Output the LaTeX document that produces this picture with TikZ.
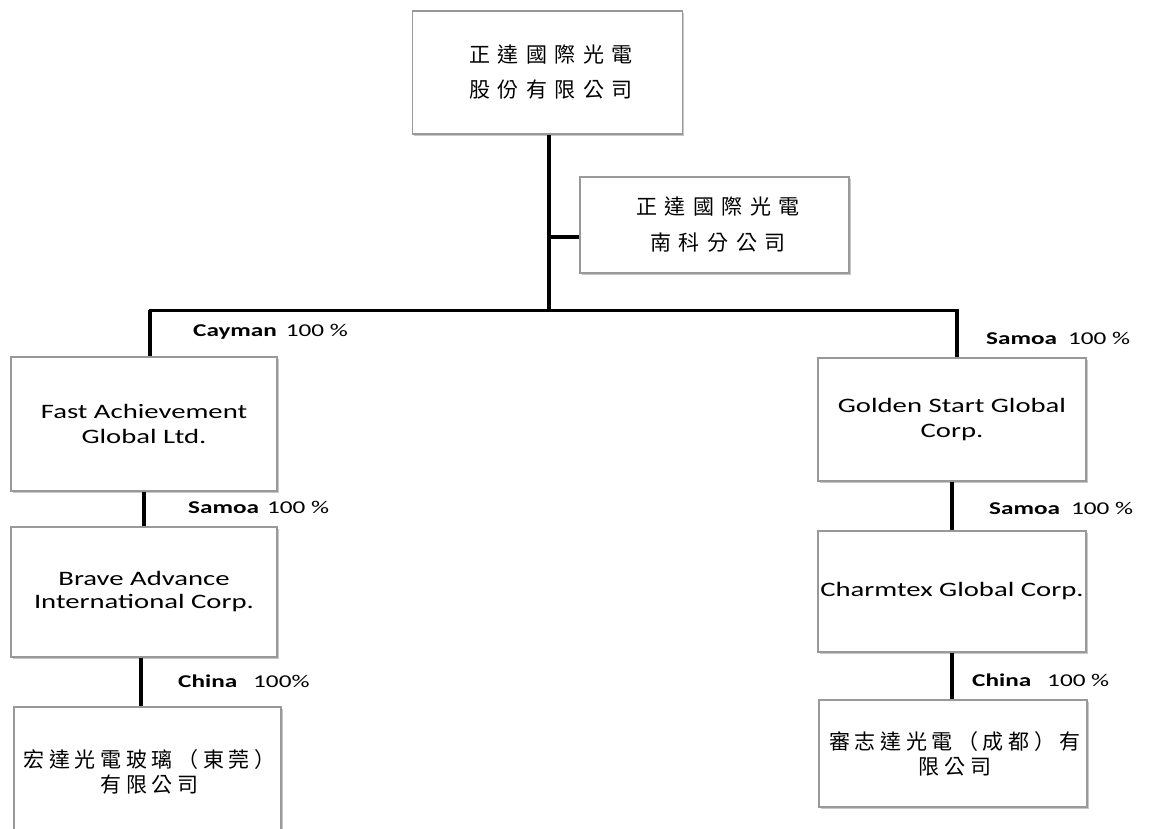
\documentclass[tikz,border=0pt]{standalone}
\usepackage{fontspec}
\setmainfont{Carlito}
\newfontfamily\calw[FakeStretch=1.4]{Carlito}
\newfontfamily\cjkA[LetterSpace=36]{Noto Sans CJK TC}
\newfontfamily\cjkB[LetterSpace=22]{Noto Sans CJK TC}
\usetikzlibrary{shadows}
\begin{document}
\begin{tikzpicture}[x=1pt,y=-1pt,
  box/.style={draw=black!40, line width=1.3pt, fill=white, inner sep=0pt, align=center,
    general shadow={fill=black!22, shadow xshift=1.6pt, shadow yshift=-1.6pt}},
  link/.style={line width=4pt, black},
  hlink/.style={line width=3pt, black},
  lbl/.style={anchor=west, inner sep=0pt, font=\calw\fontsize{18}{20}\selectfont}
]
\useasboundingbox (0,0) rectangle (1151,829);
\fill[white] (0,0) rectangle (1151,829);

% boxes
\node[box, minimum width=270pt, minimum height=123pt,
  font=\cjkA\fontsize{21}{35}\selectfont] (top) at (547.5,72.5) {\hspace{7pt}正達國際光電\\\hspace{7pt}股份有限公司};
\node[box, minimum width=269pt, minimum height=96pt,
  font=\cjkA\fontsize{21}{36}\selectfont] (branch) at (714.5,225) {\hspace{7pt}正達國際光電\\\hspace{7pt}南科分公司};
\node[box, minimum width=266pt, minimum height=134pt,
  font=\calw\fontsize{20.5}{25}\selectfont] (fa) at (144,424) {Fast Achievement\\Global Ltd.};
\node[box, minimum width=266pt, minimum height=130pt,
  font=\calw\fontsize{20.5}{23}\selectfont] (brave) at (144,592) {Brave Advance\\International Corp.};
\node[box, minimum width=267pt, minimum height=130pt,
  font=\cjkB\fontsize{21}{25}\selectfont] (hong) at (147.5,772) {\hspace{4pt}宏達光電玻璃（東莞）\\\hspace{4pt}有限公司};
\node[box, minimum width=268pt, minimum height=123pt,
  font=\calw\fontsize{20.5}{25}\selectfont] (golden) at (952,419.5) {Golden Start Global\\Corp.};
\node[box, minimum width=268pt, minimum height=121pt,
  font=\calw\fontsize{20.5}{25}\selectfont] (charm) at (952,591.5) {Charmtex Global Corp.};
\node[box, minimum width=268pt, minimum height=107pt,
  font=\cjkB\fontsize{21}{25}\selectfont] (shen) at (953,753.5) {\hspace{4pt}審志達光電（成都）有\\\hspace{4pt}限公司};

% connectors
\coordinate (J) at (549,310);
\coordinate (S) at (549,237);
\coordinate (L) at (150,310);
\coordinate (R) at (957,310);
\draw[link] (top.south -| J) -- (J);
\draw[hlink] (S) -- (S -| branch.west);
\draw[hlink] ([xshift=-1.5pt]L) -- ([xshift=1.5pt]R);
\draw[link] (L) -- (L |- fa.north);
\draw[link] (R) -- (R |- golden.north);
\draw[link] (fa.south) -- (brave.north);
\draw[link] ([xshift=-3pt]brave.south) -- ([xshift=-3pt]hong.north -| brave.south);
\draw[link] (golden.south) -- (charm.north);
\draw[link] (charm.south) -- (charm.south |- shen.north);

% labels
\node[lbl] (l1) at (193,332) {\textbf{Cayman}\hspace{9pt}100 \%};
\node[lbl] (l2) at (188,507) {\textbf{Samoa}\hspace{8pt}100 \%};
\node[lbl] (l3) at (178,681) {\textbf{China}\hspace{16pt}100\%};
\node[lbl] (r1) at (986,338) {\textbf{Samoa}\hspace{11pt}100 \%};
\node[lbl] (r2) at (989,508) {\textbf{Samoa}\hspace{11pt}100 \%};
\node[lbl] (r3) at (972,680) {\textbf{China}\hspace{16pt}100 \%};
\end{tikzpicture}
\end{document}
